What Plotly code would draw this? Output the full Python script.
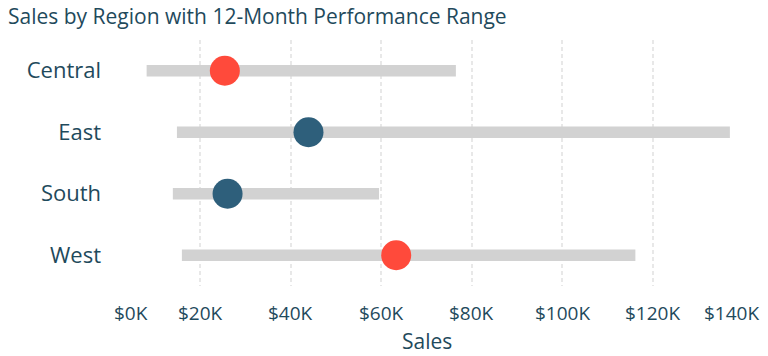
import plotly.graph_objects as go

regions = ["Central", "East", "South", "West"]
range_low = [8100, 14800, 13900, 15900]
range_high = [76500, 137100, 59500, 116200]
sales = [25400, 43900, 26000, 63300]
status = ["below", "above", "above", "below"]
tick_vals = [0, 20000, 40000, 60000, 80000, 100000, 120000, 140000]
tick_text = ["$0K", "$20K", "$40K", "$60K", "$80K", "$100K", "$120K", "$140K"]

color_map = {"below": "#FF4A3B", "above": "#2E5F7B"}
text_color = "#1F4A5C"
font_family = "Open Sans"

fig = go.Figure()
fig.add_trace(go.Bar(
    y=regions,
    x=[h - l for l, h in zip(range_low, range_high)],
    base=range_low,
    orientation="h",
    width=0.19,
    marker=dict(color="#D2D2D2", line=dict(width=0)),
    hoverinfo="skip",
    showlegend=False,
))
fig.add_trace(go.Scatter(
    y=regions,
    x=sales,
    mode="markers",
    marker=dict(size=30, color=[color_map[s] for s in status], line=dict(width=0)),
    showlegend=False,
))

# x tick labels drawn as annotations so the edge labels sit inside the pane
edge_shift = {0: 21, len(tick_vals) - 1: -12}
for i, (v, t) in enumerate(zip(tick_vals, tick_text)):
    fig.add_annotation(
        x=v, y=0, xref="x", yref="paper",
        text=t, showarrow=False,
        xanchor="center", yanchor="middle",
        xshift=edge_shift.get(i, 0), yshift=-27,
        font=dict(family=font_family, size=19, color=text_color),
    )
fig.add_annotation(
    x=0.5, y=0, xref="paper", yref="paper",
    text="Sales", showarrow=False,
    xanchor="center", yanchor="middle", yshift=-55,
    font=dict(family=font_family, size=21, color=text_color),
)

fig.update_layout(
    width=768, height=356,
    margin=dict(l=110, r=25, t=40, b=70),
    paper_bgcolor="white",
    plot_bgcolor="white",
    font=dict(family=font_family, color=text_color, size=20),
    title=dict(
        text="Sales by Region with 12-Month Performance Range",
        x=0, xanchor="left", xref="container",
        y=1 - 17 / 356, yanchor="middle", yref="container",
        pad=dict(l=8),
        font=dict(family=font_family, size=21, color=text_color),
    ),
    xaxis=dict(
        range=[0, 140000],
        tickvals=tick_vals,
        showticklabels=False,
        showgrid=True,
        gridcolor="#E8E8E8",
        gridwidth=1.5,
        griddash="4px,3px",
        zeroline=False,
        showline=False,
        ticks="",
        automargin=False,
    ),
    yaxis=dict(
        categoryorder="array",
        categoryarray=regions,
        range=[3.5, -0.5],
        showgrid=False,
        zeroline=False,
        showline=False,
        ticks="",
        ticklabelstandoff=8,
        automargin=False,
        tickfont=dict(size=22, color=text_color),
    ),
)

fig.write_html(
    "out.html",
    config={"displayModeBar": False},
    post_script="document.body.style.margin='0';document.body.style.overflow='hidden';",
)
